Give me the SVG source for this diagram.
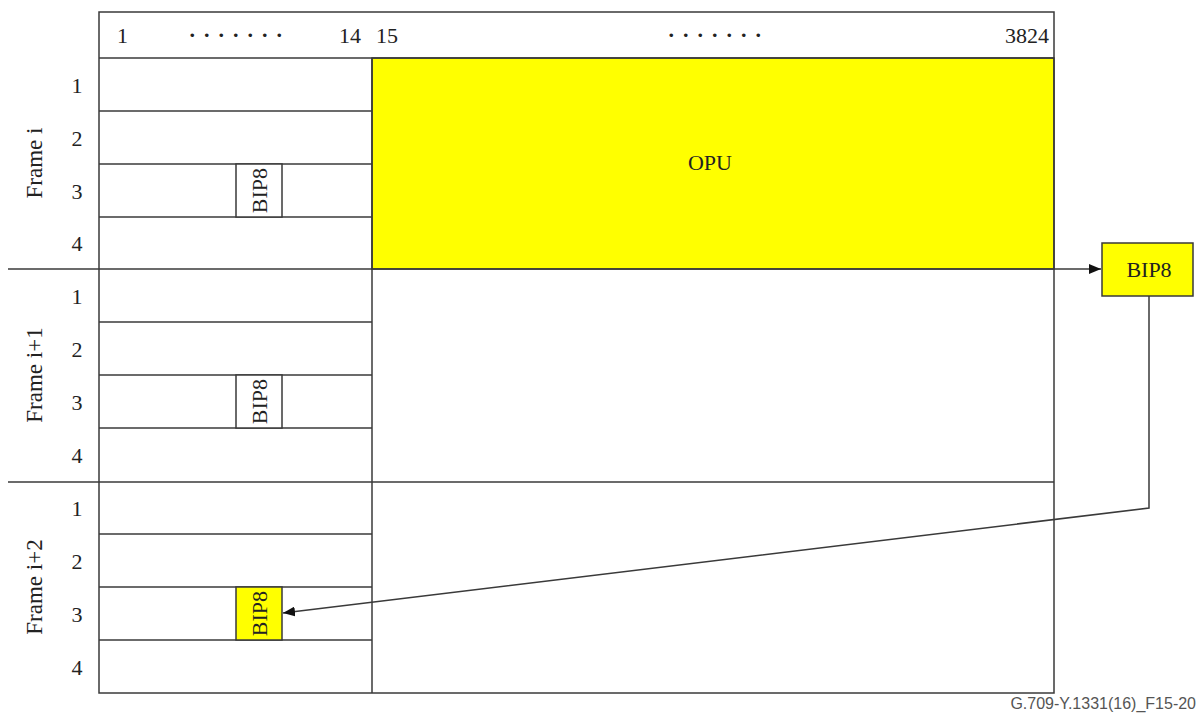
<svg xmlns="http://www.w3.org/2000/svg" width="1203" height="716" viewBox="0 0 1203 716">
<style>
.ln{stroke:#3a3a3a;stroke-width:1.5;fill:none}
.bx{stroke:#3a3a3a;stroke-width:1.5}
.t{font-family:"Liberation Serif","Times New Roman",serif;font-size:22px;fill:#222}
.fr{font-size:23px}
.m{text-anchor:middle}
.e{text-anchor:end}
.dots{letter-spacing:9px;font-weight:bold}
.ft{font-family:"Liberation Sans",Arial,sans-serif;font-size:16px;fill:#555;text-anchor:end}
</style>
<defs>
<marker id="ah" viewBox="0 0 12 10" refX="12" refY="5" markerWidth="12" markerHeight="10" markerUnits="userSpaceOnUse" orient="auto">
<path d="M0,0 L12,5 L0,10 z" fill="#111"/>
</marker>
</defs>
<rect width="1203" height="716" fill="#fff"/>
<g id="opu">
<rect x="372" y="58" width="682" height="211" fill="#ffff00" class="bx"/>
<text class="t m" x="710" y="170">OPU</text>
</g>
<g id="grid">
<rect x="99" y="12" width="955" height="681" class="ln"/>
<line class="ln" x1="99" y1="58" x2="1054" y2="58"/>
<line class="ln" x1="372" y1="58" x2="372" y2="693"/>
<line class="ln" x1="99" y1="111" x2="372" y2="111"/>
<line class="ln" x1="99" y1="164" x2="372" y2="164"/>
<line class="ln" x1="99" y1="217" x2="372" y2="217"/>
<line class="ln" x1="8" y1="482" x2="1054" y2="482"/>
<line class="ln" x1="99" y1="322" x2="372" y2="322"/>
<line class="ln" x1="99" y1="375" x2="372" y2="375"/>
<line class="ln" x1="99" y1="428" x2="372" y2="428"/>
<line class="ln" x1="99" y1="534" x2="372" y2="534"/>
<line class="ln" x1="99" y1="587" x2="372" y2="587"/>
<line class="ln" x1="99" y1="640" x2="372" y2="640"/>
</g>
<g id="header">
<text class="t" x="117" y="43">1</text>
<text class="t dots" x="189.5" y="37">.......</text>
<text class="t" x="339" y="43">14</text>
<text class="t" x="376" y="43">15</text>
<text class="t dots" x="668.5" y="37">.......</text>
<text class="t e" x="1049" y="43">3824</text>
</g>
<g id="rowlabels">
<text class="t m" x="77" y="93">1</text>
<text class="t m" x="77" y="146">2</text>
<text class="t m" x="77" y="199">3</text>
<text class="t m" x="77" y="251">4</text>
<text class="t m" x="77" y="304">1</text>
<text class="t m" x="77" y="357">2</text>
<text class="t m" x="77" y="410">3</text>
<text class="t m" x="77" y="463">4</text>
<text class="t m" x="77" y="516">1</text>
<text class="t m" x="77" y="569">2</text>
<text class="t m" x="77" y="622">3</text>
<text class="t m" x="77" y="675">4</text>
</g>
<g id="framelabels">
<text class="t fr m" transform="translate(42,163) rotate(-90)">Frame i</text>
<text class="t fr m" transform="translate(42,375) rotate(-90)">Frame i+1</text>
<text class="t fr m" transform="translate(42,587) rotate(-90)">Frame i+2</text>
</g>
<g id="bip8-frame-i">
<rect x="236" y="164" width="46" height="53" fill="#fff" class="bx"/>
<text class="t m" transform="translate(267,190.5) rotate(-90)">BIP8</text>
</g>
<g id="bip8-frame-i1">
<rect x="236" y="375" width="46" height="53" fill="#fff" class="bx"/>
<text class="t m" transform="translate(267,401.5) rotate(-90)">BIP8</text>
</g>
<g id="bip8-frame-i2">
<rect x="236" y="587" width="46" height="53" fill="#ffff00" class="bx"/>
<text class="t m" transform="translate(267,613.5) rotate(-90)">BIP8</text>
</g>
<g id="bip8-out">
<rect x="1102" y="243" width="91" height="53" fill="#ffff00" class="bx"/>
<text class="t m" x="1149" y="277">BIP8</text>
</g>
<g id="connectors">
<line class="ln" x1="8" y1="269" x2="1101" y2="269" marker-end="url(#ah)"/>
<path class="ln" d="M1149,296 V508 L283,613" marker-end="url(#ah)"/>
</g>
<text class="ft" x="1196" y="709">G.709-Y.1331(16)_F15-20</text>
</svg>
